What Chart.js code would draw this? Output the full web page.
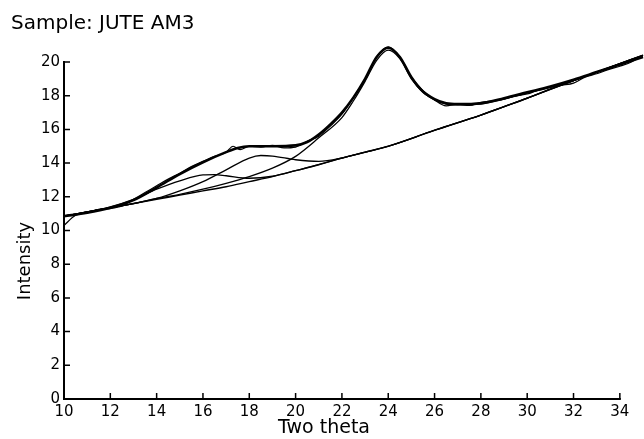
<!DOCTYPE html>
<html>
<head>
<meta charset="utf-8">
<script src="https://cdn.jsdelivr.net/npm/chart.js@4/dist/chart.umd.min.js"></script>
<style>
  body { margin: 0; background: #fff; }
  #wrap { width: 644px; height: 439px; }
</style>
</head>
<body>
<div id="wrap"><canvas id="xrd"></canvas></div>
<script>
// X-ray diffractogram of jute sample AM3, with fitted components
// x = two theta (deg), y = intensity

// amorphous background
const baseX = [10, 11, 12, 13, 14, 15, 16, 17, 18, 19, 20, 21, 22, 23, 24, 25, 26, 27, 28, 29, 30, 31, 32, 33, 34, 35];
const baseY = [10.85, 11.1, 11.35, 11.6, 11.85, 12.1, 12.35, 12.6, 12.9, 13.2, 13.55, 13.9, 14.3, 14.65, 15.0, 15.45, 15.95, 16.4, 16.85, 17.35, 17.85, 18.4, 18.9, 19.4, 19.9, 20.4];

// component peak near 16 deg
const peak1X = [10, 11, 12, 13, 14, 15, 16, 16.5, 17, 18, 19, 20, 22, 24, 26, 28, 30, 32, 34, 35];
const peak1Y = [10.85, 11.1, 11.4, 11.85, 12.45, 12.95, 13.3, 13.32, 13.25, 13.1, 13.22, 13.55, 14.3, 15.0, 15.95, 16.85, 17.85, 18.9, 19.9, 20.4];

// component peak near 18.5 deg
const peak2X = [10, 11, 12, 13, 14, 15, 16, 17, 18, 18.5, 19, 20, 21, 22, 23, 24, 26, 28, 30, 32, 34, 35];
const peak2Y = [10.85, 11.1, 11.35, 11.6, 11.9, 12.35, 12.9, 13.6, 14.3, 14.45, 14.42, 14.2, 14.1, 14.3, 14.65, 15.0, 15.95, 16.85, 17.85, 18.9, 19.9, 20.4];

// main crystalline peak near 24 deg
const peak3X = [10, 11, 12, 13, 14, 15, 16, 17, 18, 19, 20, 21, 22, 22.5, 23, 23.5, 24, 24.5, 25, 25.5, 26, 26.5, 27, 28, 29, 30, 31, 32, 33, 34, 35];
const peak3Y = [10.85, 11.1, 11.35, 11.6, 11.9, 12.15, 12.45, 12.8, 13.2, 13.7, 14.4, 15.5, 16.7, 17.7, 18.85, 20.1, 20.7, 20.2, 19.0, 18.2, 17.75, 17.5, 17.45, 17.5, 17.8, 18.15, 18.5, 18.9, 19.4, 19.85, 20.3];

// fitted total
const fitX = [10, 11, 12, 13, 14, 15, 16, 17, 17.5, 18, 19, 20, 20.5, 21, 21.5, 22, 22.5, 23, 23.5, 24, 24.5, 25, 25.5, 26, 26.5, 27, 28, 29, 30, 31, 32, 33, 34, 35];
const fitY = [10.85, 11.05, 11.35, 11.8, 12.55, 13.35, 14.05, 14.65, 14.9, 15.0, 15.0, 15.05, 15.25, 15.7, 16.3, 17.0, 17.9, 19.0, 20.3, 20.85, 20.3, 19.1, 18.25, 17.8, 17.55, 17.5, 17.55, 17.85, 18.2, 18.55, 18.95, 19.4, 19.85, 20.3];

// measured trace
const measX = [10, 10.5, 11, 11.5, 12, 12.5, 13, 13.5, 14, 14.5, 15, 15.5, 16, 16.5, 17, 17.3, 17.6, 18, 18.5, 19, 19.5, 20, 20.5, 21, 21.5, 22, 22.5, 23, 23.5, 24, 24.5, 25, 25.5, 26, 26.5, 27, 27.5, 28, 28.5, 29, 29.5, 30, 30.5, 31, 31.5, 32, 32.5, 33, 33.5, 34, 34.5, 35];
const measY = [10.3, 10.9, 11.05, 11.25, 11.3, 11.45, 11.85, 12.25, 12.65, 13.05, 13.4, 13.8, 14.1, 14.4, 14.65, 15.0, 14.8, 15.0, 14.95, 15.05, 14.9, 14.95, 15.3, 15.6, 16.2, 16.9, 17.9, 19.0, 20.3, 20.9, 20.3, 19.1, 18.3, 17.75, 17.4, 17.5, 17.42, 17.6, 17.7, 17.8, 17.98, 18.1, 18.35, 18.5, 18.62, 18.75, 19.1, 19.3, 19.55, 19.75, 20.0, 20.4];

const xTicks = [10, 12, 14, 16, 18, 20, 22, 24, 26, 28, 30, 32, 34];
const yTicks = [0, 2, 4, 6, 8, 10, 12, 14, 16, 18, 20];

const FONT = '"DejaVu Sans", sans-serif';
const pts = (xs, ys) => xs.map((x, i) => ({ x: x, y: ys[i] }));

function line(xs, ys, width) {
  return {
    data: pts(xs, ys),
    borderColor: '#000',
    borderWidth: width,
    pointRadius: 0,
    cubicInterpolationMode: 'monotone',
    clip: false
  };
}

// x axis line (stops at 34), inward tick marks and the two axis titles
const axisDecor = {
  id: 'axisDecor',
  afterDraw(chart) {
    const { ctx, chartArea, scales } = chart;
    const x = scales.x, y = scales.y;
    ctx.save();
    ctx.strokeStyle = '#000';
    ctx.lineWidth = 2;
    ctx.beginPath();
    ctx.moveTo(chartArea.left - 1, chartArea.bottom);
    ctx.lineTo(x.getPixelForValue(xTicks[xTicks.length - 1]) + 1, chartArea.bottom);
    ctx.stroke();

    ctx.lineWidth = 1.5;
    ctx.beginPath();
    xTicks.forEach(v => {
      const px = x.getPixelForValue(v);
      ctx.moveTo(px, chartArea.bottom);
      ctx.lineTo(px, chartArea.bottom - 6);
    });
    yTicks.forEach(v => {
      const py = y.getPixelForValue(v);
      ctx.moveTo(chartArea.left, py);
      ctx.lineTo(chartArea.left + 6, py);
    });
    ctx.stroke();

    ctx.fillStyle = '#000';
    ctx.textAlign = 'center';
    ctx.textBaseline = 'middle';
    ctx.font = '19px ' + FONT;
    ctx.fillText('Two theta', chartArea.left + 260, chartArea.bottom + 29);
    ctx.translate(25, chartArea.top + 199);
    ctx.rotate(-Math.PI / 2);
    ctx.font = '18px ' + FONT;
    ctx.fillText('Intensity', 0, 0);
    ctx.restore();
  }
};

new Chart(document.getElementById('xrd'), {
  type: 'line',
  data: {
    datasets: [
      line(baseX, baseY, 1.4),
      line(peak1X, peak1Y, 1.3),
      line(peak2X, peak2Y, 1.3),
      line(peak3X, peak3Y, 1.3),
      line(measX, measY, 1.2),
      line(fitX, fitY, 2.6)
    ]
  },
  options: {
    responsive: true,
    maintainAspectRatio: false,
    animation: false,
    layout: { padding: { left: 11, right: 1, top: 0, bottom: 0 } },
    plugins: {
      legend: { display: false },
      tooltip: { enabled: false },
      title: {
        display: true,
        text: 'Sample: JUTE AM3',
        align: 'start',
        color: '#000',
        font: { family: FONT, size: 20, weight: 'normal' },
        padding: { top: 12, bottom: 26 }
      }
    },
    scales: {
      x: {
        type: 'linear',
        min: 10,
        max: 35,
        afterFit: s => { s.height = 40; },
        afterBuildTicks: s => { s.ticks = xTicks.map(v => ({ value: v })); },
        grid: { display: false, drawTicks: false },
        border: { display: false },
        ticks: { color: '#000', padding: 4, maxRotation: 0, font: { family: FONT, size: 15 } }
      },
      y: {
        min: 0,
        max: 20,
        afterFit: s => { s.width = 53; },
        afterBuildTicks: s => { s.ticks = yTicks.map(v => ({ value: v })); },
        grid: { display: false, drawTicks: false },
        border: { display: true, color: '#000', width: 2 },
        ticks: { color: '#000', padding: 4, font: { family: FONT, size: 15 } }
      }
    }
  },
  plugins: [axisDecor]
});
</script>
</body>
</html>
